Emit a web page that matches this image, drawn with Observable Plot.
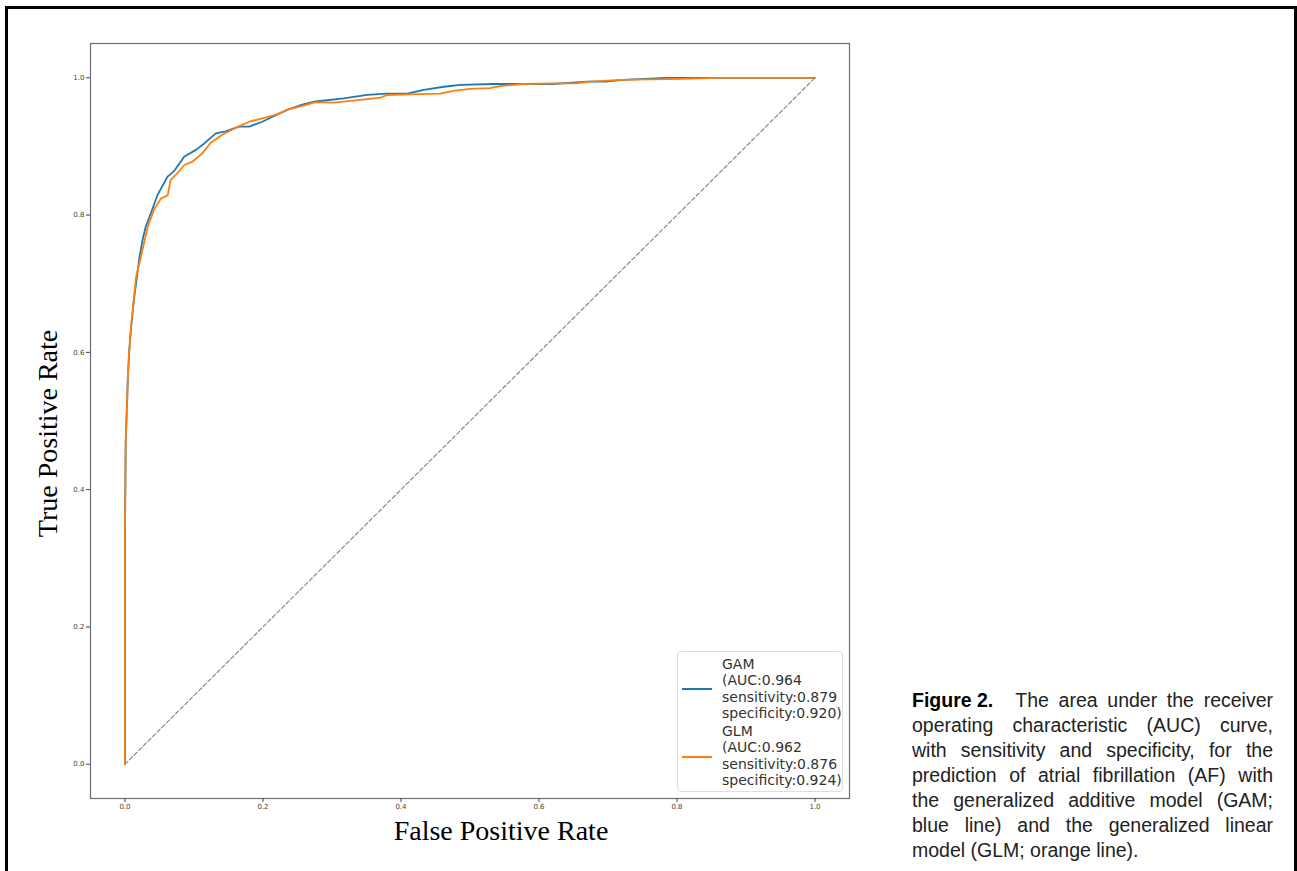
<!DOCTYPE html>
<html>
<head>
<meta charset="utf-8">
<script src="https://cdn.jsdelivr.net/npm/d3@7"></script>
<script src="https://cdn.jsdelivr.net/npm/@observablehq/plot@0.6"></script>
<style>
  html, body { margin: 0; padding: 0; background: #fff; }
  #page { position: relative; width: 1297px; height: 871px; overflow: hidden; background: #fff; }
  #border { position: absolute; left: 5px; top: 6px; width: 1292px; height: 900px; box-sizing: border-box;
            border: 3px solid #000; }
  #chart { position: absolute; left: 0; top: 0; }
  #legend { position: absolute; left: 677px; top: 651px; width: 166px; height: 141px; box-sizing: border-box;
            border: 1px solid #dedede; border-radius: 4px; background: rgba(255,255,255,0.85);
            font-family: "DejaVu Sans", sans-serif; font-size: 14px; color: #333; }
  .lg-text { position: absolute; left: 44px; line-height: 16.6px; white-space: pre; }
  .lg-line { position: absolute; left: 4px; width: 30px; height: 2px; }
  #caption { position: absolute; left: 912px; top: 688px; width: 361px; font-family: "Liberation Sans", Arial, sans-serif;
             font-size: 19.5px; line-height: 25px; color: #222; }
  #caption .ln { text-align: justify; text-align-last: justify; white-space: nowrap; }
  #caption .ln.last { text-align: left; text-align-last: left; }
  #caption .fig { font-family: "Liberation Sans Narrow", "Liberation Sans", Arial, sans-serif; font-weight: bold; color: #000;
                  display: inline-block; margin-right: 22px; }
</style>
</head>
<body>
<div id="page">
  <div id="border"></div>
  <div id="chart"></div>
  <div id="legend"></div>
  <div id="caption"></div>
</div>
<script>
// ---- data ----
const gamFpr = [0, 0, 0.001, 0.003, 0.004, 0.006, 0.0087, 0.0135, 0.016, 0.021, 0.0255, 0.030, 0.0376, 0.047, 0.0617, 0.071, 0.0857, 0.1026, 0.112, 0.1315, 0.146, 0.165, 0.18, 0.199, 0.213, 0.237, 0.257, 0.276, 0.317, 0.351, 0.380, 0.409, 0.433, 0.462, 0.486, 0.534, 0.582, 0.620, 0.649, 0.669, 0.697, 0.722, 0.784, 1.0];
const gamTpr = [0, 0.34, 0.47, 0.526, 0.56, 0.60, 0.636, 0.681, 0.70, 0.739, 0.764, 0.783, 0.803, 0.829, 0.856, 0.864, 0.885, 0.895, 0.902, 0.919, 0.922, 0.929, 0.929, 0.936, 0.943, 0.954, 0.961, 0.9655, 0.970, 0.975, 0.977, 0.977, 0.9825, 0.987, 0.9898, 0.991, 0.991, 0.991, 0.993, 0.9945, 0.9945, 0.997, 1.0, 1.0];
const glmFpr = [0, 0, 0.001, 0.003, 0.004, 0.006, 0.0087, 0.016, 0.023, 0.033, 0.042, 0.052, 0.062, 0.066, 0.076, 0.086, 0.098, 0.112, 0.124, 0.141, 0.160, 0.18, 0.199, 0.218, 0.237, 0.257, 0.276, 0.302, 0.327, 0.351, 0.370, 0.380, 0.413, 0.457, 0.476, 0.500, 0.529, 0.543, 0.577, 0.620, 0.654, 0.673, 0.719, 0.806, 0.858, 1.0];
const glmTpr = [0, 0.34, 0.47, 0.526, 0.56, 0.60, 0.636, 0.710, 0.739, 0.783, 0.808, 0.824, 0.829, 0.851, 0.861, 0.873, 0.878, 0.890, 0.905, 0.917, 0.927, 0.936, 0.941, 0.946, 0.954, 0.959, 0.9645, 0.964, 0.9665, 0.969, 0.971, 0.975, 0.976, 0.977, 0.981, 0.984, 0.985, 0.988, 0.991, 0.992, 0.992, 0.9945, 0.997, 0.9985, 1.0, 1.0];
const chanceFpr = [0, 1];
const chanceTpr = [0, 1];
const tickValues = [0, 0.2, 0.4, 0.6, 0.8, 1.0];
const seriesNames = ["GAM", "GLM"];
const seriesColors = ["#1f77b4", "#ff7f0e"];
const legendLabels = [
  "GAM\n(AUC:0.964\nsensitivity:0.879\nspecificity:0.920)",
  "GLM\n(AUC:0.962\nsensitivity:0.876\nspecificity:0.924)"
];
const xLabel = "False Positive Rate";
const yLabel = "True Positive Rate";
const captionBold = "Figure 2.";
const captionLines = [
  "The area under the receiver",
  "operating characteristic (AUC) curve,",
  "with sensitivity and specificity, for the",
  "prediction of atrial fibrillation (AF) with",
  "the generalized additive model (GAM;",
  "blue line) and the generalized linear",
  "model (GLM; orange line)."
];

// ---- build tables ----
const gam = gamFpr.map((x, i) => ({x, y: gamTpr[i]}));
const glm = glmFpr.map((x, i) => ({x, y: glmTpr[i]}));
const chance = chanceFpr.map((x, i) => ({x, y: chanceTpr[i]}));

const chart = Plot.plot({
  width: 870,
  height: 871,
  marginLeft: 90,
  marginRight: 21,
  marginTop: 43,
  marginBottom: 73,
  style: {background: "transparent"},
  x: {domain: [-0.05, 1.05]},
  y: {domain: [-0.05, 1.05]},
  marks: [
    Plot.line(chance, {x: "x", y: "y", stroke: "#8a8a8a", strokeWidth: 1.2, strokeDasharray: "4,2.5"}),
    Plot.line(gam, {x: "x", y: "y", stroke: seriesColors[0], strokeWidth: 1.8}),
    Plot.line(glm, {x: "x", y: "y", stroke: seriesColors[1], strokeWidth: 1.8}),
    Plot.frame({stroke: "#6e6e6e", strokeWidth: 1.2}),
    Plot.axisX({ticks: tickValues, tickFormat: d => d.toFixed(1), tickSize: 4, tickPadding: 2,
                fontSize: 7, fontFamily: "DejaVu Sans", color: "#444", label: null}),
    Plot.axisY({ticks: tickValues, tickFormat: d => d.toFixed(1), tickSize: 4, tickPadding: 2,
                fontSize: 7, fontFamily: "DejaVu Sans", color: "#444", label: null}),
    Plot.text([xLabel], {text: d => d, frameAnchor: "bottom", dy: 33, dx: 31, fontSize: 28,
                         fontFamily: "Liberation Serif", fill: "#000", textAnchor: "middle", lineAnchor: "middle"}),
    Plot.text([yLabel], {text: d => d, frameAnchor: "left", rotate: -90, dx: -42, dy: 12.5, fontSize: 28,
                         fontFamily: "Liberation Serif", fill: "#000", textAnchor: "middle", lineAnchor: "middle"})
  ]
});
document.getElementById("chart").appendChild(chart);

// ---- legend ----
const legend = document.getElementById("legend");
const groupTops = [3.5, 70.5];
const lineTops = [35.7, 103.7];
seriesNames.forEach((name, i) => {
  const ln = document.createElement("div");
  ln.className = "lg-line";
  ln.style.top = lineTops[i] + "px";
  ln.style.background = seriesColors[i];
  legend.appendChild(ln);
  const tx = document.createElement("div");
  tx.className = "lg-text";
  tx.style.top = groupTops[i] + "px";
  tx.textContent = legendLabels[i];
  legend.appendChild(tx);
});

// ---- caption ----
const cap = document.getElementById("caption");
captionLines.forEach((t, i) => {
  const d = document.createElement("div");
  d.className = "ln" + (i === captionLines.length - 1 ? " last" : "");
  if (i === 0) {
    const b = document.createElement("span");
    b.className = "fig";
    b.textContent = captionBold;
    d.appendChild(b);
  }
  d.appendChild(document.createTextNode(t));
  cap.appendChild(d);
});
</script>
</body>
</html>
